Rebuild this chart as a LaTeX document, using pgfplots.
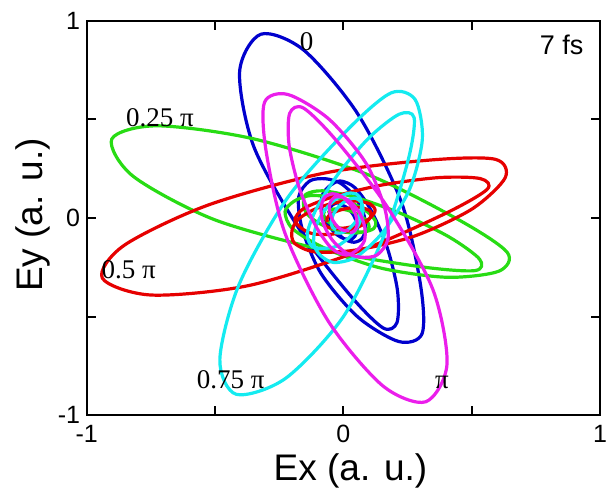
\documentclass[border=0pt]{standalone}
\usepackage{fontspec}
\setmainfont{Liberation Sans}
\newfontfamily\tnr{Liberation Serif}
\usepackage{pgfplots}
\pgfplotsset{compat=1.18}
\usepackage{pgfplotstable}
\definecolor{cB}{RGB}{0,0,205}
\definecolor{cG}{RGB}{40,220,20}
\definecolor{cR}{RGB}{230,0,0}
\definecolor{cC}{RGB}{20,235,240}
\definecolor{cM}{RGB}{235,30,235}

\pgfplotstableread{
x y
-0.026 0.076
-0.045 0.064
-0.054 0.031
-0.048 -0.017
-0.027 -0.068
0.005 -0.108
0.042 -0.123
0.073 -0.104
0.087 -0.051
0.078 0.027
0.044 0.110
-0.009 0.175
-0.068 0.199
-0.131 0.188
-0.174 0.106
-0.160 -0.056
-0.086 -0.283
0.057 -0.503
0.216 -0.627
0.307 -0.587
0.301 -0.341
0.227 0.078
0.057 0.527
-0.153 0.851
-0.321 0.933
-0.404 0.742
-0.349 0.363
-0.170 -0.059
0.027 -0.393
0.155 -0.558
0.209 -0.531
0.211 -0.367
0.171 -0.150
0.109 0.037
0.046 0.153
-0.012 0.188
-0.055 0.161
-0.082 0.116
-0.084 0.049
-0.065 -0.022
-0.031 -0.078
0.005 -0.106
0.036 -0.104
0.052 -0.075
0.053 -0.031
0.040 0.014
0.019 0.048
-0.003 0.064
-0.021 0.062
}\blueT

\pgfplotstableread{
x y
-0.073 0.033
-0.078 0.011
-0.060 -0.018
-0.021 -0.047
0.031 -0.067
0.083 -0.070
0.119 -0.053
0.126 -0.018
0.096 0.029
0.034 0.075
-0.050 0.107
-0.134 0.113
-0.192 0.085
-0.227 0.032
-0.197 -0.055
-0.069 -0.155
0.149 -0.255
0.406 -0.301
0.606 -0.270
0.639 -0.175
0.455 -0.013
0.098 0.219
-0.347 0.401
-0.726 0.468
-0.902 0.401
-0.818 0.211
-0.503 -0.008
-0.073 -0.164
0.305 -0.248
0.513 -0.267
0.531 -0.209
0.412 -0.096
0.226 0.022
0.047 0.105
-0.081 0.138
-0.146 0.120
-0.155 0.069
-0.141 0.020
-0.093 -0.028
-0.028 -0.063
0.036 -0.076
0.081 -0.069
0.101 -0.045
0.090 -0.013
0.058 0.018
0.017 0.039
-0.022 0.047
-0.049 0.041
-0.059 0.026
}\greenT

\pgfplotstableread{
x y
-0.076 -0.025
-0.065 -0.044
-0.032 -0.053
0.016 -0.049
0.068 -0.029
0.108 0.004
0.124 0.040
0.105 0.071
0.052 0.086
-0.026 0.079
-0.109 0.046
-0.175 -0.006
-0.200 -0.065
-0.190 -0.128
-0.110 -0.172
0.052 -0.162
0.281 -0.090
0.503 0.047
0.631 0.205
0.592 0.298
0.346 0.295
-0.074 0.228
-0.526 0.066
-0.853 -0.138
-0.939 -0.305
-0.749 -0.391
-0.369 -0.343
0.056 -0.171
0.393 0.020
0.560 0.145
0.534 0.200
0.371 0.205
0.153 0.168
-0.036 0.109
-0.153 0.049
-0.189 -0.009
-0.162 -0.053
-0.118 -0.080
-0.050 -0.083
0.021 -0.065
0.077 -0.033
0.106 0.004
0.105 0.034
0.075 0.051
0.032 0.052
-0.013 0.040
-0.048 0.020
-0.064 -0.002
-0.062 -0.020
}\redT

\pgfplotstableread{
x y
-0.034 -0.073
-0.012 -0.077
0.017 -0.060
0.046 -0.022
0.067 0.030
0.071 0.082
0.055 0.118
0.020 0.126
-0.028 0.097
-0.075 0.035
-0.108 -0.048
-0.115 -0.132
-0.089 -0.190
-0.036 -0.226
0.051 -0.197
0.154 -0.072
0.258 0.145
0.308 0.401
0.280 0.601
0.186 0.635
0.021 0.454
-0.218 0.101
-0.407 -0.340
-0.481 -0.718
-0.417 -0.895
-0.225 -0.814
-0.001 -0.503
0.163 -0.076
0.254 0.301
0.276 0.509
0.218 0.527
0.103 0.411
-0.018 0.227
-0.104 0.049
-0.140 -0.078
-0.122 -0.144
-0.072 -0.154
-0.022 -0.141
0.027 -0.094
0.062 -0.029
0.077 0.034
0.070 0.080
0.047 0.100
0.014 0.090
-0.017 0.059
-0.039 0.018
-0.047 -0.021
-0.042 -0.048
-0.028 -0.059
}\cyanT

\pgfplotstableread{
x y
0.026 -0.076
0.045 -0.064
0.054 -0.031
0.048 0.017
0.027 0.068
-0.005 0.108
-0.042 0.123
-0.073 0.104
-0.087 0.051
-0.078 -0.027
-0.044 -0.110
0.009 -0.175
0.068 -0.199
0.131 -0.188
0.174 -0.106
0.160 0.056
0.086 0.283
-0.057 0.503
-0.216 0.627
-0.307 0.587
-0.301 0.341
-0.227 -0.078
-0.057 -0.527
0.153 -0.851
0.321 -0.933
0.404 -0.742
0.349 -0.363
0.170 0.059
-0.027 0.393
-0.155 0.558
-0.209 0.531
-0.211 0.367
-0.171 0.150
-0.109 -0.037
-0.046 -0.153
0.012 -0.188
0.055 -0.161
0.082 -0.116
0.084 -0.049
0.065 0.022
0.031 0.078
-0.005 0.106
-0.036 0.104
-0.052 0.075
-0.053 0.031
-0.040 -0.014
-0.019 -0.048
0.003 -0.064
0.021 -0.062
}\magT

\begin{document}
\begin{tikzpicture}
\begin{axis}[
  scale only axis, width=513.3pt, height=394pt,
  xmin=-1, xmax=1, ymin=-1, ymax=1,
  xtick={-1,-0.5,0,0.5,1}, xticklabels={-1,,0,,1},
  ytick={-1,-0.5,0,0.5,1}, yticklabels={-1,,0,,1},
  tick align=inside, major tick length=9pt,
  tick style={black, line width=2pt},
  axis line style={line width=1.8pt},
  ticklabel style={font=\fontsize{25}{30}\selectfont},
  xticklabel style={yshift=-7pt},
  yticklabel style={xshift=-3pt},
  xlabel={Ex (a. u.)}, ylabel={Ey (a. u.)},
  label style={font=\fontsize{37}{44}\selectfont},
  xlabel style={at={(axis description cs:0.514,-0.165)}, anchor=base},
  ylabel style={at={(axis description cs:-0.0851,0.5076)}, anchor=base},
]
\addplot[cB, smooth, line width=3.2pt, line join=round] table {\blueT};
\addplot[cG, smooth, line width=3.2pt, line join=round] table {\greenT};
\addplot[cR, smooth, line width=3.2pt, line join=round] table {\redT};
\addplot[cC, smooth, line width=3.2pt, line join=round] table {\cyanT};
\addplot[cM, smooth, line width=3.2pt, line join=round] table {\magT};

\node[font=\tnr\fontsize{27}{30}\selectfont] at (axis cs:-0.143,0.895) {0};
\node[font=\tnr\fontsize{27}{30}\selectfont] at (axis cs:-0.714,0.508) {0.25 π};
\node[font=\tnr\fontsize{27}{30}\selectfont] at (axis cs:-0.836,-0.26) {0.5 π};
\node[font=\tnr\fontsize{27}{30}\selectfont] at (axis cs:-0.439,-0.821) {0.75 π};
\node[font=\tnr\fontsize{27}{30}\selectfont] at (axis cs:0.384,-0.833) {π};
\node[font=\fontsize{27}{30}\selectfont] at (axis cs:0.851,0.878) {7 fs};

\coordinate (bbBL) at (axis cs:-1.3376,-1.3807);
\coordinate (bbTR) at (axis cs:1.0625,1.1066);
\end{axis}
\pgfresetboundingbox
\useasboundingbox (bbBL) rectangle (bbTR);
\end{tikzpicture}
\end{document}
